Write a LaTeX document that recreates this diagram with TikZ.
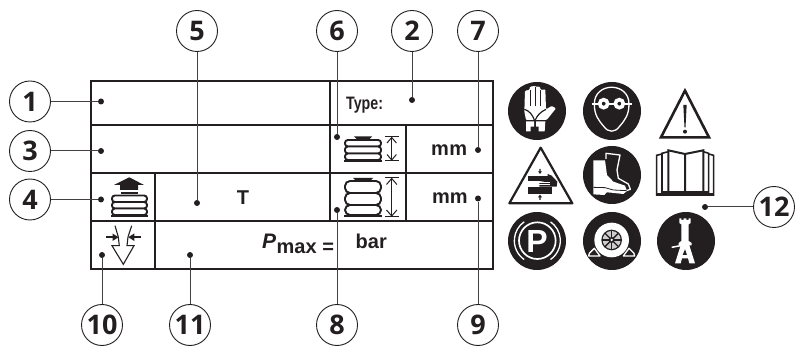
\documentclass[tikz,border=0pt]{standalone}
\usepackage{graphicx}
\usepackage{fontspec}
\setmainfont{Liberation Sans}
\newfontfamily\numfont{Open Sans}
\definecolor{ink}{HTML}{231F20}
\tikzset{
  callout/.style={circle,draw=ink,line width=0.9pt,minimum size=41pt,inner sep=0pt,font=\numfont\bfseries\fontsize{27}{27}\selectfont,text=ink},
  pin/.style={circle,fill=ink,minimum size=6pt,inner sep=0pt},
  lead/.style={draw=ink!85,line width=1pt},
  tbl/.style={draw=ink,line width=1.6pt},
  lbl/.style={font=\bfseries\fontsize{20}{20}\selectfont,text=ink,inner sep=0pt},
  bel/.style={draw=ink,line width=1.9pt,rounded corners=2.8pt,fill=white},
  ico/.style={draw=ink,line width=1.3pt},
  wht/.style={draw=white,line width=1.3pt},
  badge/.style={circle,fill=ink,minimum size=58pt,inner sep=0pt},
  zm/.style={x=0.3333pt,y=-0.3333pt}
}
\begin{document}
\begin{tikzpicture}[x=1pt,y=-1pt]
\useasboundingbox (0,0) rectangle (795,347);
% table
\draw[tbl] (91,81) rectangle (493,269);
\draw[tbl] (91,125)--(493,125) (91,173)--(493,173) (91,221)--(493,221);
\draw[tbl] (330,81)--(330,221) (406,125)--(406,221) (155,173)--(155,269);
% callouts
\node[callout] (c1) at (30,101.5) {1};
\node[callout] (c3) at (30,151) {3};
\node[callout] (c4) at (30,199.5) {4};
\node[callout] (c5) at (197,31) {5};
\node[callout] (c6) at (337,31) {6};
\node[callout] (c2) at (412,31) {2};
\node[callout] (c7) at (478,31) {7};
\node[callout] (c10) at (102,325) {10};
\node[callout] (c11) at (190,325) {11};
\node[callout] (c8) at (337,325) {8};
\node[callout] (c9) at (478,325) {9};
\node[callout] (c12) at (774,207) {12};
% pins
\node[pin] (p1) at (101,101.5) {};
\node[pin] (p3) at (101,151) {};
\node[pin] (p4) at (101,199.5) {};
\node[pin] (p5) at (197,203) {};
\node[pin] (p6) at (337,137) {};
\node[pin] (p2) at (412,100) {};
\node[pin] (p7) at (478,150) {};
\node[pin] (p8) at (337,210) {};
\node[pin] (p9) at (478,198.5) {};
\node[pin] (p10) at (102,255) {};
\node[pin] (p11) at (190,255) {};
\node[pin] (p12) at (705,207) {};
\foreach \n in {1,3,4,5,6,2,7,8,9,10,11,12} \draw[lead] (c\n) -- (p\n);
% texts
\node[lbl] (tT) at (243,198) {T};
\node[lbl,anchor=west] (tmm1) at (431,150) {m\hspace{0.5pt}m};
\node[lbl,anchor=west] (tmm2) at (432,198) {mm};
\node[lbl,anchor=base west,font=\bfseries\fontsize{21}{21}\selectfont] (tP) at (262,249) {\textit{P}};
\node[lbl,anchor=base west] (tmax) at (276.5,254) {max =};
\node[lbl,anchor=base west] (tbar) at (355.5,249) {bar};
\node[lbl,anchor=base west,font=\bfseries\fontsize{18}{18}\selectfont] (ttype) at (346,110) {\scalebox{0.79}[1]{Type:}};
% bellows with lift arrow (4)
\fill[ink] (129.3,177.3)--(144,185)--(138,185)--(138,190)--(120,190)--(120,185)--(114,185)--cycle;
\fill[ink] (121,192) rectangle (138,194.5);
\draw[bel] (112,195.5) rectangle (147,202);
\draw[bel] (112,202) rectangle (147,208.5);
\draw[bel] (112,208.5) rectangle (147,215);
\draw[ink,line width=2pt] (110.5,216.3)--(148,216.3);
% valve (10)
\draw[ico,line width=1.1pt,line join=miter] (115,225.7)--(118.3,237)--(119.3,245.7)--(112,245.7)--(123.3,264.3)--(134,245.7)--(127,245.7)--(128,237)--(131.7,225.7);
\fill[ink] (105.5,236) rectangle (113,238.4);
\fill[ink] (118.5,237.2)--(112.5,233.5)--(112.5,241)--cycle;
\fill[ink] (134,236) rectangle (141,238.4);
\fill[ink] (128.3,237.2)--(134.3,233.5)--(134.3,241)--cycle;
% bellows small (6)
\fill[ink] (354,136.5)--(372,136.5)--(369,139.5)--(357,139.5)--cycle;
\draw[bel] (345,140) rectangle (381,146.5);
\draw[bel] (345,146.5) rectangle (381,153.5);
\draw[bel] (345,153.5) rectangle (381,160);
\draw[ink,line width=2pt] (344,160.8)--(382,160.8);
\draw[ico] (385,136.7)--(399,136.7) (385,160.7)--(399,160.7) (391.7,137)--(391.7,160);
\draw[ico,line width=1pt] (387,143)--(391.7,137.5)--(396.4,143) (387,154.5)--(391.7,160)--(396.4,154.5);
% bellows large (8)
\fill[ink] (353,178)--(373,178)--(370,181)--(356,181)--cycle;
\draw[bel,rounded corners=5pt] (345,181) rectangle (381,193);
\draw[bel,rounded corners=5pt] (345,193) rectangle (381,205);
\draw[bel,rounded corners=5pt] (345,205) rectangle (381,215);
\draw[ink,line width=2pt] (344,216.3)--(382,216.3);
\draw[ico] (385,177.7)--(399,177.7) (385,216.7)--(399,216.7) (391.7,178)--(391.7,216);
\draw[ico,line width=1pt] (386.5,184.5)--(391.7,178.5)--(396.9,184.5) (386.5,210)--(391.7,216)--(396.9,210);
% glove
\node[badge] (gl) at (537,111) {};
\begin{scope}[shift={(500,70)},zm]
\fill[white,rounded corners=1pt] (73,125)--(75,62)--(88,60)--(90,50)--(104,48)--(106,50)--(120,50)--(122,60)--(136,58)--(138,118)--(155,108)--(168,115)--(140,150)--(78,150)--cycle;
\draw[ink,line width=0.8pt] (90,60)--(90,108) (105,50)--(105,108) (121,60)--(121,108);
\draw[ink,line width=1.2pt] (73,118) .. controls (88,122) and (98,135) .. (103,150) (138,118) .. controls (122,125) and (110,138) .. (106,150);
\fill[white] (78,154)--(102,154)--(102,170)--(92,170)--(92,184)--(78,184)--cycle;
\fill[white] (108,154)--(136,154)--(134,184)--(116,184)--(116,170)--(108,170)--cycle;
\end{scope}
% goggles
\node[badge] (go) at (612,111) {};
\begin{scope}[shift={(500,70)},zm]
\draw[wht] (283,102) .. controls (283,35) and (387,35) .. (387,102) .. controls (387,135) and (375,150) .. (358,170) .. controls (345,188) and (325,188) .. (312,170) .. controls (295,150) and (283,135) .. (283,102);
\draw[wht,line width=1.8pt] (275,102)--(395,102);
\draw[white,line width=3.6pt,fill=ink] (311,101) circle (12);
\draw[white,line width=3.6pt,fill=ink] (358,101) circle (12);
\end{scope}
% warning triangle
\begin{scope}[shift={(640,70)},zm]
\draw[ink,line width=2.6pt,line join=miter] (135,62)--(207,202)--(63,202)--cycle;
\fill[ink] (130,105)--(140,105)--(136.5,172)--(133.5,172)--cycle;
\fill[ink] (135,185) circle (6);
\end{scope}
% crush
\begin{scope}[shift={(500,135)},zm]
\draw[ink,line width=2.2pt,line join=round] (122,38)--(217,205)--(28,205)--cycle;
\fill[ink] (85,122) rectangle (143,137);
\fill[ink] (85,157) rectangle (157,176);
\fill[ink] (143,117)--(155,122)--(172,140)--(170,155)--(118,155)--(118,141)--(143,137)--cycle;
\draw[white,line width=0.6pt] (118,142)--(150,142) (118,148)--(150,148);
\fill[ink] (120,117)--(114,109)--(118,109)--(118,102)--(122,102)--(122,109)--(126,109)--cycle;
\fill[ink] (120,179)--(114,187)--(118,187)--(118,195)--(122,195)--(122,187)--(126,187)--cycle;
\end{scope}
% boots
\node[badge] (bo) at (612,175) {};
\begin{scope}[shift={(575,135)},zm]
\draw[wht,line join=round] (93,72)--(93,55)--(135,60)--(126,105)--(130,130)--(160,147)--(166,163)--(154,167);
\fill[white] (55,76)--(90,76)--(96,120)--(115,140)--(150,152)--(156,168)--(145,177)--(108,173)--(95,172)--(88,180)--(55,178)--cycle;
\draw[ink,line width=0.8pt] (55,157)--(90,158)--(115,165)--(155,167);
\end{scope}
% book
\begin{scope}[shift={(650,140)},zm]
\draw[ink,line width=2pt,line join=miter] (55,155)--(55,31)--(105,42)--(160,31)--(160,155) (105,42)--(105,155);
\draw[ink,line width=1.6pt,line join=miter] (55,35)--(36,40)--(36,160) (36,42)--(20,46)--(20,168);
\draw[ink,line width=1.6pt,line join=miter] (160,35)--(176,40)--(176,160) (176,42)--(191,46)--(191,168);
\fill[ink] (36,153) rectangle (176,160);
\fill[ink] (19,160) rectangle (192,169);
\end{scope}
% parking
\node[badge] (pk) at (537,241) {};
\node[font=\bfseries\fontsize{32}{32}\selectfont,text=white,inner sep=0pt] (pl) at (537,241) {P};
\begin{scope}[shift={(500,170)},zm]
\draw[wht,line width=1.7pt] (112,212) circle (55);
\draw[wht,line width=1.3pt] (112,212) ++(125:69) arc (125:235:69);
\draw[wht,line width=1.3pt] (112,212) ++(55:69) arc (55:-55:69);
\end{scope}
% wheel
\node[badge] (wh) at (612,241) {};
\begin{scope}[shift={(500,170)},zm]
\fill[white] (335,210) circle (52);
\fill[ink] (335,210) circle (31);
\fill[white!80!black] (335,210) circle (27);
\foreach \a in {0,45,...,315} \draw[ink,line width=1.3pt] (335,210)--++(\a:28);
\fill[ink] (335,210) circle (9);
\fill[white] (335,210) circle (4);
\draw[wht,line join=round] (266,258)--(268,250)--(283,235)--(300,258)--cycle;
\draw[wht,line join=round] (404,258)--(402,250)--(387,235)--(370,258)--cycle;
\end{scope}
% jack
\node[badge] (jk) at (686,241) {};
\begin{scope}[shift={(650,140)},zm]
\fill[white] (88,235)--(94,235)--(94,240)--(101,240)--(101,235)--(109,235)--(109,240)--(116,240)--(116,235)--(122,235)--(122,249)--(116,253)--(116,303)--(125,309)--(125,316)--(118,316)--(135,370)--(118,370)--(114,355)--(96,355)--(92,370)--(75,370)--(92,316)--(86,316)--(86,309)--(94,303)--(94,253)--(88,249)--cycle;
\fill[ink] (105,328)--(111,345)--(98,345)--cycle;
\draw[white,line width=1.5pt] (65,322)--(98,316);
\end{scope}
\end{tikzpicture}
\end{document}
